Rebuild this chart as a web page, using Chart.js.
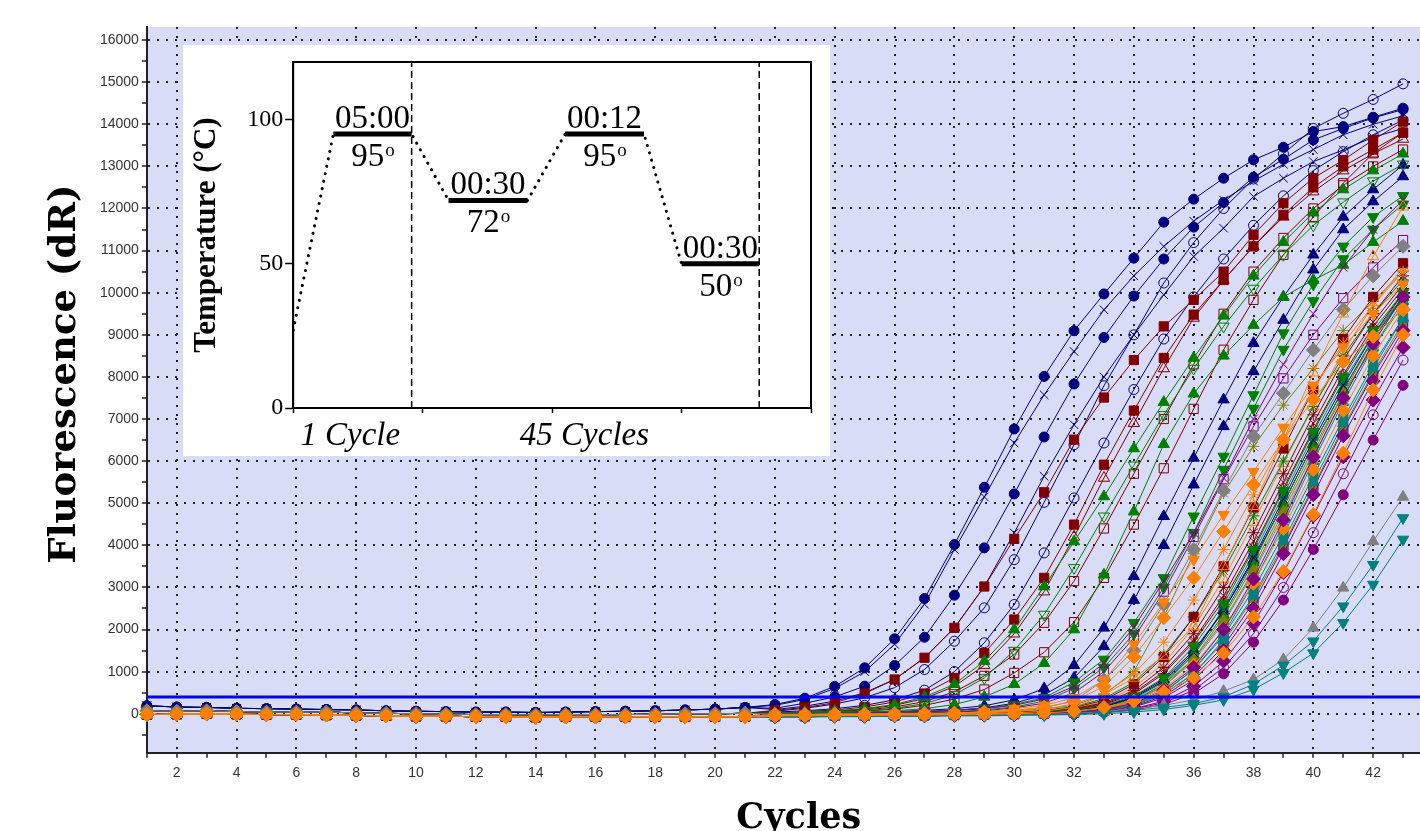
<!DOCTYPE html>
<html>
<head>
<meta charset="utf-8">
<script src="https://cdn.jsdelivr.net/npm/chart.js@4.4.1/dist/chart.umd.min.js"></script>
<style>
  html, body { margin: 0; padding: 0; background: #fff; overflow: hidden; }
  #wrap { position: relative; width: 1420px; height: 831px; overflow: hidden; }
  #mainChart { position: absolute; left: 0; top: 0; }
  #insetChart { position: absolute; left: 183px; top: 45px; background: #fff; }
</style>
</head>
<body>
<div id="wrap">
  <canvas id="mainChart" width="1429" height="831"></canvas>
  <canvas id="insetChart" width="647" height="411"></canvas>
</div>
<script>
const NAVY = '#000080', MAROON = '#800000', GREEN = '#008000', PURPLE = '#800080';
const ORANGE = '#ff8000', GRAY = '#808080', TEAL = '#008080', OLIVE = '#808000';

const cycles = [1,2,3,4,5,6,7,8,9,10,11,12,13,14,15,16,17,18,19,20,21,22,23,24,25,26,27,28,29,30,31,32,33,34,35,36,37,38,39,40,41,42,43];
const thresholdValue = 400;

// flat part, cycles 1-21
const baseHigh = [190,160,150,130,120,110,100,90,70,60,50,40,40,30,40,50,60,70,90,110,150];
const baseMid  = [70,60,70,50,40,40,40,20,10,0,-10,-20,-20,-30,-20,-20,-20,-10,0,0,10];
const baseLow  = [-20,-10,0,-10,-20,-20,-30,-40,-50,-60,-60,-70,-70,-80,-70,-70,-70,-70,-70,-70,-70];

// rising part, cycles 22-43
const navyCurves = [
  [220,370,650,1090,1780,2735,4018,5378,6763,8011,9096,9970,10820,11675,12221,12719,13154,13455,13826,13944,14168,14381],
  [130,250,400,655,1146,1818,2815,3939,5221,6573,7831,8937,9920,10800,11557,12141,12743,13170,13628,13900,14150,14350],
  [200,340,600,1000,1650,2600,3900,5150,6430,7575,8604,9594,10400,11100,11700,12200,12650,13050,13400,13750,14000,14200],
  [100,180,300,500,814,1330,2040,3022,4295,5640,6865,8000,9000,9950,10860,11532,12283,12719,13113,13391,13692,13900],
  [60,130,230,380,620,1050,1723,2515,3660,5020,6390,7790,9000,10230,11190,12000,12700,13300,13900,14260,14590,14960],
  [40,70,120,200,330,560,1000,1685,2594,3820,5125,6430,7700,8900,9900,10800,11600,12300,12900,13350,13750,14100],
  [0,10,20,30,50,80,120,190,330,600,1150,2040,3265,4690,6075,7460,8800,9900,10900,11800,12450,13035],
  [-10,0,10,20,30,50,80,140,250,450,850,1600,2700,4000,5440,6825,8130,9350,10545,11500,12165,12760]
];
const maroonCurves = [
  [80,150,260,480,814,1330,2040,3022,4153,5260,6510,7510,8400,9200,9830,10500,11375,12125,12720,13150,13628,14063],
  [20,50,90,160,280,480,850,1440,2238,3227,4492,5915,7200,8450,9480,10300,11100,11850,12500,13000,13400,13800],
  [10,30,60,110,200,360,650,1150,1900,2900,4200,5600,6900,8200,9400,10300,11100,11800,12400,12900,13300,13650],
  [0,10,30,60,110,200,350,576,970,1460,2175,3227,4492,5830,7240,8645,9830,10900,11800,12600,13310,13800],
  [10,30,50,90,160,290,520,900,1407,2160,3150,4400,5700,7000,8300,9500,10500,11300,12000,12550,13000,13400]
];
const greenCurves = [
  [20,40,70,120,220,400,700,1250,2000,3022,4090,5160,6300,7400,8450,9450,10400,11200,11900,12450,12900,13300],
  [10,20,40,70,130,240,450,850,1500,2357,3465,4690,5900,7100,8200,9200,10100,10900,11600,12150,12650,13050],
  [0,10,20,40,70,120,220,400,700,1200,2000,3300,4800,6400,7600,8500,9230,9900,10300,10660,11200,11700],
  [0,0,10,20,30,50,80,130,220,380,750,1290,2160,3227,4690,6110,7570,9040,10200,11100,11800,12300],
  [0,0,10,10,20,30,50,90,160,300,600,1100,1900,3000,4300,5800,7250,8650,9800,10800,11500,12100]
];
const purpleCurves = [
  [0,0,10,20,30,50,80,120,200,350,650,1200,2050,3150,4290,5600,7000,8300,9500,10600,11500,12200],
  [-20,-10,0,0,10,20,40,70,140,250,500,1000,1800,2900,4200,5570,6825,7965,9000,9870,10600,11250]
];
const orangeCurves = [
  [-30,-30,-20,-20,-10,0,10,40,120,200,380,800,1650,2650,3660,4730,5750,6800,7800,8700,9500,10200],
  [-30,-30,-20,-20,-10,0,10,30,80,150,300,650,1350,2280,3227,4330,5440,6510,7460,8360,8960,9600],
  [-40,-40,-30,-30,-20,-20,-10,0,20,60,150,450,850,1370,2080,3500,4930,6500,8100,9500,10860,12040],
  [-50,-50,-40,-40,-30,-30,-20,-10,0,20,60,150,300,520,850,1440,2300,3380,4730,6190,7690,9000],
  [-20,-20,-10,-10,0,0,10,20,50,110,230,480,950,1700,2700,3900,5200,6500,7700,8800,9700,10500]
];
const grayCurves = [
  [-10,-10,0,0,10,10,20,40,80,150,300,800,1500,2600,3900,5300,6590,7610,8640,9600,10400,11100],
  [-60,-60,-50,-50,-40,-40,-30,-30,-20,-10,10,50,120,200,330,536,814,1289,2040,2990,4095,5150]
];
const tealCurves = [
  [-80,-80,-70,-70,-60,-60,-50,-50,-40,-30,-20,0,40,100,200,330,577,970,1440,2160,3070,4140],
  [-70,-70,-60,-60,-50,-50,-40,-40,-30,-20,0,30,80,150,240,400,700,1150,1723,2555,3540,4650],
  [-40,-40,-30,-30,-20,-20,-10,0,10,30,60,100,300,700,1400,2500,3800,5200,6600,7900,9000,9900],
  [-50,-50,-40,-40,-30,-30,-20,-10,0,20,40,90,220,500,1050,1900,3100,4500,6000,7400,8700,9800]
];
const oliveCurves = [
  [-20,-20,-10,-10,0,0,10,30,60,120,200,450,1000,2300,3800,5240,6350,7330,8200,9100,9800,10500],
  [-40,-40,-30,-30,-20,-20,-10,0,10,30,60,120,300,650,1300,2300,3500,4900,6300,7600,8700,9700]
];
const bundleCurves = [
  [-50,-50,-40,-40,-30,-30,-20,-10,0,10,40,100,250,560,1100,2000,3200,4600,6100,7500,8800,9900],
  [-60,-60,-50,-50,-40,-40,-30,-20,-10,0,20,60,160,380,800,1500,2500,3800,5200,6600,7900,9100],
  [-70,-70,-60,-60,-50,-50,-40,-30,-20,-10,10,40,110,260,560,1100,1900,3000,4300,5700,7100,8400],
  [-30,-30,-20,-20,-10,-10,0,10,30,60,120,260,550,1100,1900,3000,4300,5700,7100,8400,9500,10400],
  [-40,-40,-30,-30,-20,-20,-10,0,20,50,100,200,420,850,1600,2600,3900,5300,6700,8000,9100,10000],
  [-40,-40,-30,-30,-20,-20,-10,0,10,40,80,170,380,780,1450,2450,3700,5100,6500,7800,9000,10000],
  [-50,-50,-40,-40,-30,-30,-20,-10,0,20,50,120,280,600,1150,2000,3100,4400,5800,7200,8500,9600],
  [-60,-60,-50,-50,-40,-40,-30,-20,-10,0,30,80,200,460,950,1750,2800,4100,5500,6900,8200,9400],
  [-30,-30,-20,-20,-10,-10,0,10,30,70,150,320,700,1350,2300,3500,4900,6300,7700,8900,9900,10700],
  [-70,-70,-60,-60,-50,-50,-40,-30,-20,-10,10,30,90,220,480,950,1700,2700,3900,5200,6500,7800],
  [-30,-30,-20,-20,-10,-10,0,10,30,80,170,360,750,1400,2300,3400,4700,6000,7300,8500,9500,10300],
  [-50,-50,-40,-40,-30,-30,-20,-10,0,20,60,140,330,700,1300,2200,3400,4800,6200,7600,8900,10000],
  [-40,-40,-30,-30,-20,-20,-10,0,20,50,110,240,500,1000,1750,2800,4100,5500,6900,8200,9300,10200],
  [-50,-50,-40,-40,-30,-30,-20,-10,0,30,70,160,360,750,1400,2350,3600,5000,6400,7700,8900,9900],
  [-60,-60,-50,-50,-40,-40,-30,-20,-10,10,40,100,240,520,1050,1850,2950,4250,5650,7000,8300,9400],
  [-60,-60,-50,-50,-40,-40,-30,-20,-10,0,20,70,180,420,880,1600,2650,3950,5350,6750,8050,9200],
  [-40,-40,-30,-30,-20,-20,-10,0,20,60,130,290,620,1200,2050,3200,4550,5950,7300,8600,9700,10600],
  [-50,-50,-40,-40,-30,-30,-20,-10,10,30,80,180,400,820,1500,2450,3650,5000,6400,7700,8900,9900],
  [-60,-60,-50,-50,-40,-40,-30,-20,-10,10,30,90,220,480,950,1700,2750,4000,5400,6800,8100,9300],
  [-50,-50,-40,-40,-30,-30,-20,-10,0,20,50,130,300,650,1250,2150,3350,4700,6100,7500,8800,9900],
  [-70,-70,-60,-60,-50,-50,-40,-30,-20,-10,0,40,120,300,650,1250,2150,3350,4700,6100,7450,8700],
  [-40,-40,-30,-30,-20,-20,-10,0,10,40,100,220,470,950,1700,2700,3950,5350,6750,8050,9200,10100]
];

// style rows: [colour, marker, filled, baseline]
const navyMarks = [[NAVY,'circle',1,'high'],[NAVY,'circle',1,'high'],[NAVY,'crossRot',0,'high'],[NAVY,'crossRot',0,'high'],
  [NAVY,'circle',0,'mid'],[NAVY,'circle',0,'mid'],[NAVY,'triangle',1,'mid'],[NAVY,'triangle',1,'mid']];
const maroonMarks = [[MAROON,'rect',1,'mid'],[MAROON,'rect',1,'mid'],[MAROON,'triangle',0,'mid'],[MAROON,'rect',0,'mid'],[MAROON,'rect',0,'mid']];
const greenMarks = [[GREEN,'triangle',1,'mid'],[GREEN,'down',0,'mid'],[GREEN,'triangle',1,'mid'],[GREEN,'down',1,'mid'],[GREEN,'down',1,'mid']];
const purpleMarks = [[PURPLE,'crossRot',0,'mid'],[PURPLE,'rect',0,'low']];
const orangeMarks = [[ORANGE,'down',1,'low'],[ORANGE,'rectRot',1,'low'],[ORANGE,'triangle',0,'low'],[ORANGE,'rectRot',1,'low'],[ORANGE,'star',0,'low']];
const grayMarks = [[GRAY,'rectRot',1,'mid'],[GRAY,'triangle',1,'low']];
const tealMarks = [[TEAL,'down',1,'low'],[TEAL,'down',1,'low'],[TEAL,'rect',1,'low'],[TEAL,'triangle',1,'low']];
const oliveMarks = [[OLIVE,'star',0,'low'],[OLIVE,'rect',1,'low']];
const bundleMarks = [[PURPLE,'rectRot',1,'low'],[PURPLE,'rectRot',1,'low'],[PURPLE,'circle',0,'low'],[MAROON,'star',0,'low'],
  [GREEN,'down',1,'low'],[NAVY,'crossRot',0,'low'],[ORANGE,'rectRot',1,'low'],[TEAL,'triangle',1,'low'],
  [MAROON,'rect',1,'low'],[PURPLE,'circle',1,'low'],[GREEN,'star',0,'low'],[OLIVE,'triangle',1,'low'],
  [MAROON,'crossRot',0,'low'],[GREEN,'triangle',1,'low'],[TEAL,'rect',1,'low'],[PURPLE,'rect',0,'low'],
  [ORANGE,'triangle',0,'low'],[NAVY,'triangle',1,'low'],[OLIVE,'rect',1,'low'],[GRAY,'triangle',1,'low'],
  [PURPLE,'rectRot',1,'low'],[MAROON,'star',0,'low']];

const yTickValues = [];
for (let v = -500; v <= 16000; v += 500) yTickValues.push(v);

// inset: temperature profile
const profileX = [0, 0.31, 0.915, 1.2, 1.81, 2.1, 2.71, 3.0, 3.6];
const profileT = [27, 95, 95, 72, 72, 95, 95, 50, 50];
const holdTimes = ['05:00', '00:30', '00:12', '00:30'];
const stageBounds = [0.915, 3.6];
const stageLabels = ['1 Cycle', '45 Cycles'];
const stageLabelX = [0.44, 2.25];
const tempTicks = [0, 50, 100];

const bases = { high: baseHigh, mid: baseMid, low: baseLow };
const radius = { circle: 5, crossRot: 6, rect: 6.5, triangle: 6.5, down: 6.5, rectRot: 7, star: 6 };

function curveSet(vals, mark) {
  const [color, style, filled, base] = mark;
  const ys = bases[base].concat(vals);
  return {
    data: cycles.map((c, i) => ({ x: c, y: ys[i] })),
    borderColor: color,
    borderWidth: 1,
    pointStyle: style === 'down' ? 'triangle' : style,
    pointRotation: style === 'down' ? 180 : 0,
    pointRadius: radius[style],
    pointBorderColor: color,
    pointBorderWidth: 1,
    pointBackgroundColor: filled ? color : 'rgba(0,0,0,0)',
    tension: 0,
    clip: false
  };
}

const datasets = [{
  data: [{ x: cycles[0], y: thresholdValue }, { x: 43.6, y: thresholdValue }],
  borderColor: '#0000ff', borderWidth: 3, pointRadius: 0
}];
[[orangeCurves, orangeMarks], [tealCurves.slice(0, 2), tealMarks.slice(0, 2)], [grayCurves, grayMarks],
 [bundleCurves, bundleMarks], [tealCurves.slice(2), tealMarks.slice(2)], [oliveCurves, oliveMarks],
 [purpleCurves, purpleMarks], [greenCurves, greenMarks], [maroonCurves, maroonMarks], [navyCurves, navyMarks]]
  .forEach(([curves, marks]) => curves.forEach((v, i) => datasets.push(curveSet(v, marks[i]))));

const plotBackground = {
  id: 'plotBackground',
  beforeDraw(chart) {
    const { ctx, chartArea: a } = chart;
    ctx.save();
    ctx.fillStyle = '#d8dcf6';
    ctx.fillRect(a.left, a.top, a.right - a.left, a.bottom - a.top);
    ctx.restore();
  }
};

const tickFont = { family: "'Liberation Sans', Arial, sans-serif", size: 14 };
const xTitleFont = { family: "'DejaVu Serif', serif", size: 35, weight: 'bold', lineHeight: 0.7 };
const yTitleFont = { family: "'DejaVu Serif', serif", size: 37, weight: 'bold', lineHeight: 0.7 };

new Chart(document.getElementById('mainChart'), {
  type: 'line',
  data: { datasets },
  options: {
    responsive: false,
    animation: false,
    plugins: { legend: { display: false }, tooltip: { enabled: false } },
    layout: { padding: { left: 44, top: 27, right: 0, bottom: 0 } },
    scales: {
      x: {
        type: 'linear', min: 1, max: 43.6,
        ticks: { stepSize: 1, includeBounds: false, autoSkip: false, maxRotation: 0, color: '#333', font: tickFont, padding: 7,
          callback: v => (v % 2 === 0 ? String(v) : '') },
        grid: { color: c => (c.tick && c.tick.value % 2 === 0 ? '#222' : 'rgba(0,0,0,0)'), lineWidth: 2,
          tickColor: '#222', tickWidth: 1.5, tickLength: 5 },
        border: { color: '#222', width: 2, dash: [2, 7] },
        title: { display: true, text: '\u2002 Cycles', color: '#000', font: xTitleFont, padding: { top: 18, bottom: 0 } }
      },
      y: {
        type: 'linear', min: -925, max: 16310,
        afterBuildTicks: ax => { ax.ticks = yTickValues.map(v => ({ value: v })); },
        ticks: { autoSkip: false, color: '#333', font: tickFont, padding: 3,
          callback: v => (v % 1000 === 0 ? String(v) : '') },
        grid: { color: c => (c.tick && c.tick.value % 1000 === 0 ? '#222' : 'rgba(0,0,0,0)'), lineWidth: 2,
          tickColor: '#222', tickWidth: 1.5, tickLength: 5 },
        border: { color: '#222', width: 2, dash: [2, 7] },
        title: { display: true, text: '\u2002 Fluorescence (dR)', color: '#000', font: yTitleFont, padding: { top: 8, bottom: 19 } }
      }
    }
  },
  plugins: [plotBackground]
});

// ---- inset ----
const insetSets = [{
  data: profileX.map((x, i) => ({ x, y: profileT[i] })),
  borderColor: '#000', borderWidth: 3, borderDash: [0.1, 7.5], borderCapStyle: 'round', pointRadius: 0
}];
for (let i = 1; i < profileX.length; i += 2) {
  insetSets.push({
    data: [{ x: profileX[i], y: profileT[i] }, { x: profileX[i + 1], y: profileT[i + 1] }],
    borderColor: '#000', borderWidth: 5, pointRadius: 0
  });
}
stageBounds.forEach(b => insetSets.push({
  data: [{ x: b, y: 0 }, { x: b, y: 120 }],
  borderColor: '#000', borderWidth: 1.5, borderDash: [7, 4], pointRadius: 0
}));

const serif = "'Liberation Serif', 'Times New Roman', serif";
const insetText = {
  id: 'insetText',
  afterDraw(chart) {
    const { ctx, chartArea: a, scales: { x, y } } = chart;
    ctx.save();
    ctx.strokeStyle = '#000';
    ctx.lineWidth = 2;
    ctx.strokeRect(a.left, a.top, a.right - a.left, a.bottom - a.top);
    ctx.fillStyle = '#000';
    ctx.textBaseline = 'alphabetic';
    holdTimes.forEach((label, k) => {
      const i = 1 + 2 * k;
      const cx = x.getPixelForValue((profileX[i] + profileX[i + 1]) / 2);
      const ly = y.getPixelForValue(profileT[i]);
      ctx.font = '33px ' + serif;
      ctx.textAlign = 'center';
      ctx.fillText(label, cx, ly - 6);
      const t = String(profileT[i]);
      const tw = ctx.measureText(t).width;
      ctx.font = '19px ' + serif;
      const ow = ctx.measureText('o').width;
      const x0 = cx - (tw + ow) / 2;
      ctx.textAlign = 'left';
      ctx.font = '33px ' + serif;
      ctx.fillText(t, x0, ly + 32);
      ctx.font = '19px ' + serif;
      ctx.fillText('o', x0 + tw + 1, ly + 22);
    });
    ctx.font = 'italic 33px ' + serif;
    ctx.textAlign = 'center';
    stageLabels.forEach((s, k) => ctx.fillText(s, x.getPixelForValue(stageLabelX[k]), a.bottom + 37));
    ctx.restore();
  }
};

new Chart(document.getElementById('insetChart'), {
  type: 'line',
  data: { datasets: insetSets },
  options: {
    responsive: false,
    animation: false,
    plugins: { legend: { display: false }, tooltip: { enabled: false } },
    layout: { padding: { left: 4, top: 17, right: 19, bottom: 43 } },
    scales: {
      x: {
        type: 'linear', min: 0, max: 4,
        ticks: { display: false, stepSize: 1 },
        grid: { drawOnChartArea: false, tickLength: 5, tickColor: '#000', tickWidth: 1.5 },
        border: { color: '#000', width: 2 }
      },
      y: {
        type: 'linear', min: 0, max: 120,
        afterBuildTicks: ax => { ax.ticks = tempTicks.map(v => ({ value: v })); },
        ticks: { color: '#000', font: { family: serif, size: 24 }, padding: 2 },
        grid: { drawOnChartArea: false, tickLength: 8, tickColor: '#000', tickWidth: 1.5 },
        border: { color: '#000', width: 2 },
        title: { display: true, text: 'Temperature (°C)', color: '#000',
          font: { family: serif, size: 31, weight: 'bold' }, padding: { top: 1, bottom: 20 } }
      }
    }
  },
  plugins: [insetText]
});
</script>
</body>
</html>
